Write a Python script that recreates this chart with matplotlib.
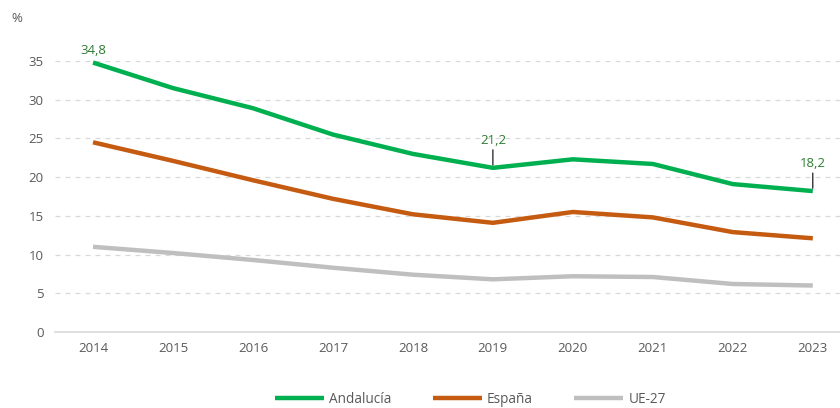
import matplotlib.pyplot as plt

plt.rcParams['font.family'] = ['Open Sans', 'DejaVu Sans']

years = [2014, 2015, 2016, 2017, 2018, 2019, 2020, 2021, 2022, 2023]
andalucia = [34.8, 31.5, 28.9, 25.5, 23.0, 21.2, 22.3, 21.7, 19.1, 18.2]
espana = [24.5, 22.1, 19.6, 17.2, 15.2, 14.1, 15.5, 14.8, 12.9, 12.1]
ue27 = [11.0, 10.2, 9.3, 8.3, 7.4, 6.8, 7.2, 7.1, 6.2, 6.0]
yticks = [0, 5, 10, 15, 20, 25, 30, 35]

# labelled points: (index, label, with leader tick)
labels = [(0, "34,8", False), (5, "21,2", True), (9, "18,2", True)]

green = "#00B050"
orange = "#C55A11"
grey = "#BFBFBF"
text_grey = "#595959"

fig = plt.figure(figsize=(8.4, 4.08), dpi=100)
ax = fig.add_axes([0.0655, 0.1863, 0.9345, 0.6642])

ax.plot(years, andalucia, color=green, lw=3.2, label="Andalucía", clip_on=False,
        solid_capstyle='butt')
ax.plot(years, espana, color=orange, lw=3.2, label="España", clip_on=False,
        solid_capstyle='butt')
ax.plot(years, ue27, color=grey, lw=3.2, label="UE-27", clip_on=False,
        solid_capstyle='butt')

for i, txt, lead in labels:
    x, y = years[i], andalucia[i]
    if lead:
        ax.annotate(txt, xy=(x, y), xytext=(0, 15), textcoords='offset points',
                    ha='center', va='bottom', color="#2E7D32", fontsize=9.5,
                    arrowprops=dict(arrowstyle='-', color='black', lw=0.8,
                                    shrinkA=0, shrinkB=2))
    else:
        ax.annotate(txt, xy=(x, y), xytext=(0, 4), textcoords='offset points',
                    ha='center', va='bottom', color="#2E7D32", fontsize=9.5)

ax.set_xlim(2014 - 0.475, 2023 + 0.34)
ax.set_ylim(0, 35)
ax.set_yticks(yticks)
ax.set_xticks(years)
ax.grid(axis='y', color="#D9D9D9", ls=(0, (4, 4)), lw=0.9)
ax.set_axisbelow(True)
for s in ['top', 'right', 'left']:
    ax.spines[s].set_visible(False)
ax.spines['bottom'].set_color("#D9D9D9")
ax.spines['bottom'].set_linewidth(1.2)
ax.tick_params(length=0, colors=text_grey, labelsize=9.5)
ax.tick_params(axis='y', pad=8)
ax.tick_params(axis='x', pad=7)

fig.text(0.014, 0.955, "%", color=text_grey, fontsize=9.5, va='center')

fig.legend(loc='center', bbox_to_anchor=(0.56, 0.022), ncol=3, frameon=False,
           fontsize=9.8, handlelength=3.6, handletextpad=0.4, columnspacing=3.0,
           labelcolor=text_grey)

fig.savefig("out.png", dpi=100)
